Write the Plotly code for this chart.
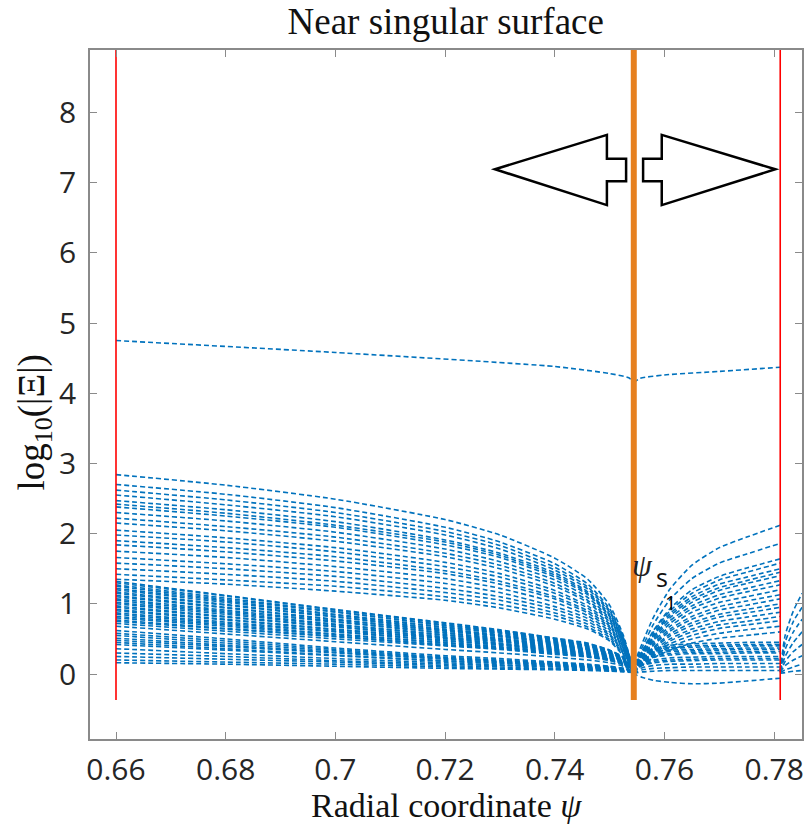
import plotly.graph_objects as go

# ---------------- text ----------------
TITLE = "Near singular surface"
X_LABEL = "Radial coordinate <i>ψ</i>"
Y_LABEL = "log<sub>10</sub>(|Ξ|)"
X_TICKS = [0.66, 0.68, 0.70, 0.72, 0.74, 0.76, 0.78]
X_TICK_TEXT = ["0.66", "0.68", "0.7", "0.72", "0.74", "0.76", "0.78"]
Y_TICKS = [0, 1, 2, 3, 4, 5, 6, 7, 8]

# ---------------- markers ----------------
SINGULAR_PSI = 0.7544
BOUNDARY_PSI = [0.66, 0.7811]
VLINE_Y = [-0.37, 9.5]

# ---------------- dominant mode ----------------
TOP_LEFT_X = [0.660, 0.700, 0.740, 0.750, 0.7535, 0.7544]
TOP_LEFT_Y = [4.75, 4.58, 4.38, 4.28, 4.22, 4.15]
TOP_RIGHT_X = [0.7544, 0.7555, 0.7600, 0.7700, 0.7811]
TOP_RIGHT_Y = [4.15, 4.21, 4.26, 4.31, 4.37]

# ---------------- left of singular surface ----------------
LEFT_X = [0.660, 0.680, 0.700, 0.720, 0.730, 0.740, 0.746, 0.750, 0.7525, 0.7544]
LEFT_UPPER = [
    [2.84, 2.69, 2.49, 2.20, 1.98, 1.65, 1.35, 0.98, 0.55, 0.03],
    [2.70, 2.56, 2.37, 2.09, 1.88, 1.57, 1.28, 0.93, 0.52, 0.05],
    [2.62, 2.48, 2.30, 2.03, 1.83, 1.52, 1.24, 0.90, 0.51, 0.04],
    [2.55, 2.41, 2.24, 1.98, 1.78, 1.48, 1.21, 0.88, 0.49, 0.06],
    [2.47, 2.34, 2.17, 1.91, 1.72, 1.44, 1.17, 0.85, 0.48, 0.05],
    [2.42, 2.29, 2.12, 1.88, 1.69, 1.41, 1.15, 0.83, 0.47, 0.07],
    [2.38, 2.25, 2.09, 1.84, 1.66, 1.38, 1.13, 0.82, 0.46, 0.04],
    [2.30, 2.18, 2.02, 1.78, 1.60, 1.34, 1.09, 0.79, 0.45, 0.06],
    [2.22, 2.10, 1.95, 1.72, 1.55, 1.29, 1.05, 0.77, 0.43, 0.05],
    [2.15, 2.04, 1.89, 1.67, 1.50, 1.25, 1.02, 0.74, 0.42, 0.08],
    [2.05, 1.94, 1.80, 1.59, 1.43, 1.19, 0.97, 0.71, 0.40, 0.06],
    [1.98, 1.88, 1.74, 1.53, 1.38, 1.15, 0.94, 0.68, 0.38, 0.05],
    [1.90, 1.80, 1.67, 1.47, 1.32, 1.10, 0.90, 0.66, 0.37, 0.07],
    [1.84, 1.74, 1.61, 1.43, 1.28, 1.07, 0.87, 0.63, 0.36, 0.06],
    [1.75, 1.66, 1.53, 1.36, 1.22, 1.02, 0.83, 0.60, 0.34, 0.08],
    [1.66, 1.57, 1.46, 1.29, 1.16, 0.96, 0.79, 0.57, 0.32, 0.07],
    [1.58, 1.50, 1.39, 1.22, 1.10, 0.92, 0.75, 0.55, 0.31, 0.09],
    [1.50, 1.42, 1.32, 1.16, 1.05, 0.87, 0.71, 0.52, 0.29, 0.08],
    [1.42, 1.34, 1.25, 1.10, 0.99, 0.83, 0.67, 0.49, 0.28, 0.07],
    [1.35, 1.28, 1.18, 1.05, 0.94, 0.78, 0.64, 0.47, 0.26, 0.09],
]
LEFT_MIDDLE = [
    [1.32, 1.12, 0.92, 0.73, 0.63, 0.51, 0.44, 0.34, 0.24, 0.05],
    [1.30, 1.11, 0.91, 0.72, 0.62, 0.51, 0.43, 0.34, 0.23, 0.06],
    [1.27, 1.08, 0.89, 0.70, 0.61, 0.50, 0.42, 0.33, 0.23, 0.06],
    [1.25, 1.06, 0.88, 0.69, 0.60, 0.49, 0.41, 0.33, 0.23, 0.05],
    [1.22, 1.04, 0.85, 0.67, 0.59, 0.48, 0.40, 0.32, 0.22, 0.04],
    [1.20, 1.02, 0.84, 0.66, 0.58, 0.47, 0.40, 0.31, 0.22, 0.04],
    [1.17, 0.99, 0.82, 0.64, 0.56, 0.46, 0.39, 0.30, 0.21, 0.05],
    [1.15, 0.98, 0.81, 0.63, 0.55, 0.45, 0.38, 0.30, 0.21, 0.06],
    [1.12, 0.95, 0.78, 0.62, 0.54, 0.44, 0.37, 0.29, 0.20, 0.06],
    [1.10, 0.94, 0.77, 0.61, 0.53, 0.43, 0.36, 0.29, 0.20, 0.05],
    [1.07, 0.91, 0.75, 0.59, 0.51, 0.42, 0.35, 0.28, 0.19, 0.04],
    [1.05, 0.89, 0.74, 0.58, 0.50, 0.41, 0.35, 0.27, 0.19, 0.04],
    [1.02, 0.87, 0.71, 0.56, 0.49, 0.40, 0.34, 0.27, 0.18, 0.05],
    [1.00, 0.85, 0.70, 0.55, 0.48, 0.39, 0.33, 0.26, 0.18, 0.06],
    [0.97, 0.82, 0.68, 0.53, 0.47, 0.38, 0.32, 0.25, 0.17, 0.06],
    [0.95, 0.81, 0.67, 0.52, 0.46, 0.37, 0.31, 0.25, 0.17, 0.05],
    [0.92, 0.78, 0.64, 0.51, 0.44, 0.36, 0.30, 0.24, 0.17, 0.05],
    [0.90, 0.77, 0.63, 0.50, 0.43, 0.35, 0.30, 0.23, 0.16, 0.04],
    [0.87, 0.74, 0.61, 0.48, 0.42, 0.34, 0.29, 0.23, 0.16, 0.04],
    [0.85, 0.72, 0.60, 0.47, 0.41, 0.33, 0.28, 0.22, 0.15, 0.06],
    [0.82, 0.70, 0.57, 0.45, 0.39, 0.32, 0.27, 0.21, 0.15, 0.06],
    [0.80, 0.68, 0.56, 0.44, 0.38, 0.31, 0.26, 0.21, 0.14, 0.05],
    [0.77, 0.65, 0.54, 0.42, 0.37, 0.30, 0.25, 0.20, 0.14, 0.05],
    [0.75, 0.64, 0.53, 0.41, 0.36, 0.29, 0.25, 0.20, 0.14, 0.04],
    [0.72, 0.61, 0.50, 0.40, 0.35, 0.28, 0.24, 0.19, 0.13, 0.04],
    [0.68, 0.57, 0.46, 0.35, 0.30, 0.24, 0.20, 0.16, 0.11, 0.04],
]
LEFT_LOWER = [
    [0.62, 0.50, 0.37, 0.26, 0.22, 0.17, 0.14, 0.11, 0.08, 0.04],
    [0.58, 0.47, 0.35, 0.24, 0.20, 0.16, 0.13, 0.10, 0.08, 0.03],
    [0.55, 0.44, 0.33, 0.23, 0.19, 0.15, 0.12, 0.10, 0.07, 0.03],
    [0.51, 0.41, 0.31, 0.22, 0.18, 0.14, 0.12, 0.09, 0.07, 0.04],
    [0.48, 0.39, 0.30, 0.21, 0.17, 0.14, 0.11, 0.09, 0.07, 0.04],
    [0.45, 0.36, 0.27, 0.19, 0.16, 0.13, 0.10, 0.08, 0.06, 0.03],
    [0.42, 0.34, 0.26, 0.18, 0.15, 0.12, 0.10, 0.08, 0.06, 0.03],
    [0.36, 0.29, 0.22, 0.16, 0.13, 0.11, 0.09, 0.07, 0.05, 0.02],
    [0.30, 0.25, 0.19, 0.14, 0.12, 0.10, 0.08, 0.06, 0.05, 0.03],
    [0.25, 0.21, 0.17, 0.12, 0.10, 0.08, 0.07, 0.05, 0.04, 0.02],
    [0.20, 0.17, 0.14, 0.10, 0.08, 0.07, 0.06, 0.05, 0.04, 0.03],
    [0.16, 0.14, 0.11, 0.08, 0.07, 0.06, 0.05, 0.04, 0.03, 0.02],
]

# ---------------- right of singular surface ----------------
RIGHT_X = [0.7544, 0.7550, 0.7560, 0.7580, 0.7610, 0.7650, 0.7700, 0.7750, 0.7811]
RIGHT_UPPER = [
    [0.03, 0.25, 0.45, 0.81, 1.21, 1.55, 1.80, 1.95, 2.12],
    [0.03, 0.22, 0.39, 0.71, 1.06, 1.36, 1.58, 1.71, 1.86],
    [0.02, 0.20, 0.34, 0.62, 0.93, 1.20, 1.39, 1.51, 1.64],
    [0.04, 0.19, 0.33, 0.60, 0.90, 1.15, 1.34, 1.45, 1.58],
    [0.03, 0.18, 0.32, 0.57, 0.86, 1.10, 1.28, 1.38, 1.50],
    [0.02, 0.17, 0.30, 0.55, 0.83, 1.06, 1.23, 1.33, 1.45],
    [0.04, 0.17, 0.29, 0.53, 0.80, 1.02, 1.19, 1.29, 1.40],
    [0.03, 0.16, 0.28, 0.51, 0.76, 0.97, 1.13, 1.22, 1.33],
    [0.02, 0.15, 0.27, 0.48, 0.72, 0.93, 1.08, 1.17, 1.27],
    [0.04, 0.14, 0.25, 0.46, 0.68, 0.88, 1.02, 1.10, 1.20],
    [0.03, 0.14, 0.24, 0.43, 0.64, 0.82, 0.96, 1.04, 1.13],
    [0.02, 0.13, 0.22, 0.41, 0.61, 0.78, 0.91, 0.98, 1.07],
    [0.04, 0.12, 0.21, 0.38, 0.57, 0.73, 0.85, 0.92, 1.00],
    [0.03, 0.11, 0.20, 0.36, 0.54, 0.69, 0.81, 0.87, 0.95],
    [0.02, 0.11, 0.18, 0.33, 0.50, 0.64, 0.75, 0.81, 0.88],
    [0.04, 0.10, 0.17, 0.31, 0.47, 0.60, 0.70, 0.75, 0.82],
    [0.03, 0.09, 0.16, 0.29, 0.43, 0.55, 0.65, 0.70, 0.76],
    [0.02, 0.08, 0.14, 0.26, 0.39, 0.50, 0.58, 0.63, 0.68],
    [0.04, 0.07, 0.13, 0.23, 0.34, 0.44, 0.51, 0.55, 0.60],
]
RIGHT_LOWER = [
    [0.05, 0.18, 0.27, 0.36, 0.41, 0.43, 0.44, 0.45, 0.45],
    [0.04, 0.17, 0.25, 0.34, 0.38, 0.40, 0.41, 0.42, 0.42],
    [0.04, 0.16, 0.24, 0.32, 0.36, 0.38, 0.39, 0.40, 0.40],
    [0.04, 0.15, 0.22, 0.30, 0.34, 0.35, 0.36, 0.37, 0.37],
    [0.04, 0.14, 0.21, 0.28, 0.32, 0.33, 0.34, 0.35, 0.35],
    [0.03, 0.13, 0.19, 0.26, 0.29, 0.31, 0.31, 0.32, 0.32],
    [0.03, 0.12, 0.18, 0.24, 0.27, 0.29, 0.29, 0.30, 0.30],
    [0.03, 0.10, 0.15, 0.20, 0.23, 0.24, 0.25, 0.25, 0.25],
    [0.02, 0.09, 0.13, 0.18, 0.20, 0.21, 0.22, 0.22, 0.22],
    [0.02, 0.08, 0.12, 0.16, 0.18, 0.19, 0.20, 0.20, 0.20],
    [0.02, 0.06, 0.09, 0.12, 0.14, 0.14, 0.15, 0.15, 0.15],
    [0.01, 0.04, 0.06, 0.08, 0.09, 0.10, 0.10, 0.10, 0.10],
    [0.01, 0.02, 0.03, 0.04, 0.05, 0.05, 0.05, 0.05, 0.05],
    [0.02, -0.02, -0.05, -0.09, -0.12, -0.14, -0.13, -0.10, -0.06],
]

# ---------------- beyond outer boundary ----------------
OUTER_X = [0.7811, 0.7820, 0.7835, 0.7851]
OUTER = [
    [0.05, 0.55, 0.90, 1.15],
    [0.04, 0.45, 0.75, 0.95],
    [0.03, 0.35, 0.60, 0.78],
    [0.05, 0.25, 0.45, 0.60],
    [0.02, 0.18, 0.32, 0.42],
    [0.03, 0.12, 0.20, 0.26],
    [0.02, 0.06, 0.10, 0.14],
    [0.01, 0.02, 0.04, 0.05],
]

BLUE = "#0072BD"
ORANGE = "#E6801F"
SERIF = "Liberation Serif, Times New Roman, serif"
SANS = "Open Sans, Noto Sans, sans-serif"

fig = go.Figure()


def add_curve(xs, ys):
    fig.add_trace(go.Scatter(
        x=xs, y=ys, mode="lines",
        line=dict(color=BLUE, width=1.6, dash="5px,3px", shape="spline", smoothing=0.6),
        hoverinfo="skip", showlegend=False,
    ))


for row in LEFT_LOWER + LEFT_MIDDLE + LEFT_UPPER:
    add_curve(LEFT_X, row)
for row in RIGHT_LOWER + RIGHT_UPPER:
    add_curve(RIGHT_X, row)
for row in OUTER:
    add_curve(OUTER_X, row)
add_curve(TOP_LEFT_X, TOP_LEFT_Y)
add_curve(TOP_RIGHT_X, TOP_RIGHT_Y)

# boundary lines (red) and singular surface (orange)
for bx in BOUNDARY_PSI:
    fig.add_trace(go.Scatter(x=[bx, bx], y=VLINE_Y, mode="lines",
                             line=dict(color="#FF0000", width=1.6),
                             hoverinfo="skip", showlegend=False))
fig.add_trace(go.Scatter(x=[SINGULAR_PSI, SINGULAR_PSI], y=VLINE_Y, mode="lines",
                         line=dict(color=ORANGE, width=6),
                         hoverinfo="skip", showlegend=False))

# block arrows
LEFT_ARROW = ("M 0.7291,7.19 L 0.7495,7.68 L 0.7495,7.34 L 0.7530,7.34 "
              "L 0.7530,7.02 L 0.7495,7.02 L 0.7495,6.68 Z")
RIGHT_ARROW = ("M 0.7802,7.19 L 0.7595,7.68 L 0.7595,7.34 L 0.7561,7.34 "
               "L 0.7561,7.02 L 0.7595,7.02 L 0.7595,6.68 Z")
for p in (LEFT_ARROW, RIGHT_ARROW):
    fig.add_shape(type="path", path=p, xref="x", yref="y",
                  fillcolor="white", line=dict(color="black", width=2.5), layer="above")

axis_common = dict(
    showline=True, linecolor="#8a8a8a", linewidth=1.5, mirror="ticks",
    ticks="inside", ticklen=7, tickwidth=1.2, tickcolor="#8a8a8a",
    showgrid=False, zeroline=False, automargin=False,
    tickfont=dict(family=SANS, size=30, color="#262626"),
)

fig.update_layout(
    width=809, height=826,
    margin=dict(l=90, r=7, t=50, b=87),
    paper_bgcolor="white", plot_bgcolor="white",
    title=dict(text=TITLE, x=0.551, xanchor="center", y=0.974, yanchor="middle",
               font=dict(family=SERIF, size=37, color="#111111")),
    xaxis=dict(range=[0.65526, 0.78507], tickvals=X_TICKS, ticktext=X_TICK_TEXT,
               ticklabelstandoff=3,
               **axis_common),
    yaxis=dict(range=[-0.926, 8.889], tickvals=Y_TICKS,
               ticklabelstandoff=6,
               **axis_common),
    annotations=[
        dict(text=X_LABEL, xref="paper", yref="paper", x=0.5, y=-0.1255,
             showarrow=False, xanchor="center", yanchor="bottom", borderpad=0,
             font=dict(family=SERIF, size=34, color="#111111")),
        dict(text=Y_LABEL, xref="paper", yref="paper", x=-0.078, y=0.46,
             textangle=-90, showarrow=False, xanchor="center", yanchor="middle",
             font=dict(family=SERIF, size=37, color="#111111")),
        dict(text="<i>ψ</i>", x=0.75600, y=1.55, xref="x", yref="y", showarrow=False,
             font=dict(family=SERIF, size=32, color="#222222")),
        dict(text="s", x=0.75955, y=1.38, xref="x", yref="y", showarrow=False,
             font=dict(family=SANS, size=25, color="#111111")),
        dict(text="1", x=0.76110, y=1.02, xref="x", yref="y", showarrow=False,
             font=dict(family=SANS, size=20, color="#000000")),
    ],
)

fig.write_html("out.html",
               config={"displayModeBar": False},
               post_script="document.body.style.margin='0';document.body.style.overflow='hidden';")
